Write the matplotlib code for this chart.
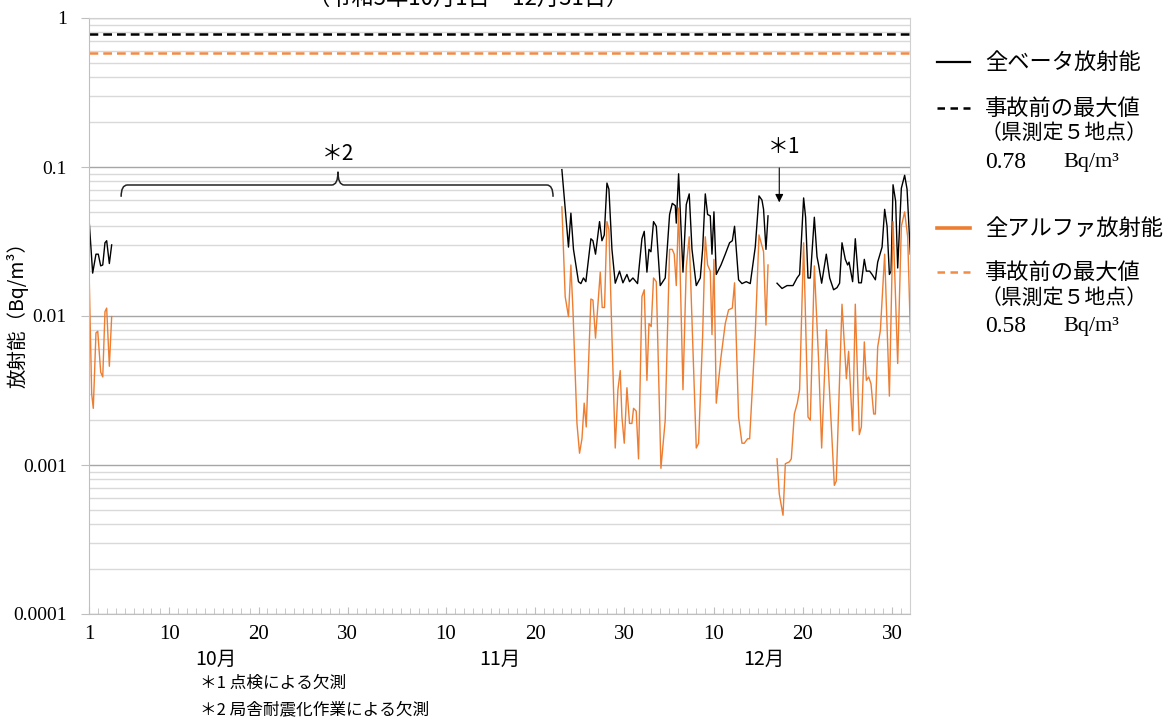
import numpy as np
import matplotlib
matplotlib.use("Agg")
import matplotlib.pyplot as plt
from matplotlib.lines import Line2D
from matplotlib.path import Path
from matplotlib.patches import PathPatch
from matplotlib.transforms import blended_transform_factory

# data: time = days since Oct 1 (0 = 10/1), values in Bq/m3, nan = missing
t_beta = [0.0, 0.41, 0.78, 1.04, 1.31, 1.54, 1.79, 1.98, 2.28, 2.54,
          27.0,
          52.99, 53.73, 54.0, 54.29, 54.85, 55.12, 55.41, 55.68, 56.24, 56.47,
          56.76, 57.21, 57.48, 57.74, 58.04, 58.26, 58.6, 58.97, 59.45, 59.83,
          60.28, 60.57, 60.95, 61.47, 61.96, 62.22, 62.52, 62.75, 62.97, 63.26,
          63.57, 64.01, 64.57, 65.06, 65.36, 65.7, 65.81, 66.07, 66.56, 66.93,
          67.26, 67.57, 68.05, 68.5, 68.76, 69.06, 69.32, 69.62, 69.81, 70.03,
          70.29, 70.82, 71.3, 71.78, 72.09, 72.34, 72.79, 73.17, 73.65, 74.1,
          74.66, 75.08, 75.41, 75.59, 75.86, 76.09,
          76.6,
          77.1, 77.66, 78.22, 78.89, 79.34, 79.63, 80.08, 80.3, 80.57, 80.83,
          81.28, 81.58, 81.76, 82.1, 82.62, 83.0, 83.44, 83.82, 84.11, 84.38,
          84.75, 85.01, 85.17, 85.57, 85.87, 86.25, 86.55, 86.88, 87.11, 87.48,
          87.75, 88.12, 88.38, 88.87, 89.16, 89.43, 89.69, 89.88, 90.1, 90.39,
          90.62, 91.03, 91.4, 91.67, 92.04]
beta = [0.045, 0.0194, 0.026, 0.026, 0.0217, 0.022, 0.031, 0.032, 0.0225, 0.030,
        np.nan,
        0.096, 0.029, 0.049, 0.028, 0.017, 0.0165, 0.018, 0.017, 0.033, 0.032,
        0.026, 0.043, 0.032, 0.035, 0.078, 0.071, 0.028, 0.0166, 0.020, 0.0167,
        0.019, 0.017, 0.018, 0.0165, 0.033, 0.037, 0.0197, 0.028, 0.027, 0.043,
        0.040, 0.016, 0.018, 0.048, 0.057, 0.055, 0.042, 0.090, 0.0197, 0.056,
        0.066, 0.028, 0.016, 0.018, 0.028, 0.066, 0.048, 0.047, 0.026, 0.050,
        0.019, 0.022, 0.026, 0.031, 0.032, 0.040, 0.0175, 0.0165, 0.017, 0.0165,
        0.029, 0.064, 0.060, 0.052, 0.028, 0.047,
        np.nan,
        0.0166, 0.0153, 0.016, 0.016, 0.018, 0.019, 0.062, 0.046, 0.018, 0.018,
        0.046, 0.025, 0.022, 0.0166, 0.026, 0.018, 0.015, 0.0155, 0.0166, 0.031,
        0.024, 0.022, 0.023, 0.017, 0.033, 0.0167, 0.0167, 0.024, 0.020, 0.020,
        0.019, 0.0175, 0.023, 0.029, 0.052, 0.040, 0.019, 0.020, 0.076, 0.059,
        0.021, 0.072, 0.088, 0.071, 0.026]

t_alpha = [0.0, 0.3, 0.48, 0.78, 0.98, 1.31, 1.54, 1.79, 1.98, 2.28, 2.54,
           27.0,
           52.99, 53.36, 53.73, 54.0, 54.23, 54.68, 54.97, 55.24, 55.49, 55.72,
           56.24, 56.47, 56.76, 57.29, 57.51, 57.77, 58.04, 58.26, 58.6, 58.97,
           59.27, 59.53, 59.72, 59.98, 60.28, 60.57, 60.84, 61.02, 61.32, 61.58,
           61.96, 62.22, 62.52, 62.75, 63.0, 63.26, 63.57, 64.09, 64.57, 65.06,
           65.36, 65.58, 65.81, 66.07, 66.56, 66.93, 67.26, 67.68, 68.05, 68.31,
           68.76, 69.06, 69.32, 69.62, 69.81, 70.03, 70.29, 70.82, 71.3, 71.67,
           72.09, 72.34, 72.79, 73.17, 73.43, 73.8, 74.03, 74.66, 75.08, 75.59,
           75.86, 76.09,
           76.6,
           77.1, 77.35, 77.77, 78.03, 78.48, 78.7, 79.04, 79.37, 79.63, 80.08,
           80.57, 80.83, 81.28, 81.76, 82.1, 82.62, 83.15, 83.52, 83.74, 84.38,
           84.87, 85.12, 85.57, 85.87, 86.32, 86.55, 86.88, 87.11, 87.37, 87.63,
           87.93, 88.12, 88.38, 88.68, 89.16, 89.69, 90.1, 90.62, 91.03, 91.4,
           91.74, 92.04]
alpha = [0.021, 0.003, 0.0024, 0.0077, 0.0079, 0.0042, 0.0039, 0.0107, 0.0113, 0.0046, 0.0099,
         np.nan,
         0.054, 0.0135, 0.0099, 0.022, 0.011, 0.0019, 0.0012, 0.0015, 0.0026, 0.0018,
         0.013, 0.0128, 0.0071, 0.0197, 0.0114, 0.0114, 0.043, 0.038, 0.0073, 0.0013,
         0.0032, 0.0043, 0.0021, 0.0014, 0.0033, 0.0019, 0.0019, 0.0024, 0.0023, 0.0011,
         0.0135, 0.015, 0.0037, 0.0089, 0.0085, 0.018, 0.017, 0.00095, 0.002, 0.028,
         0.028, 0.026, 0.016, 0.053, 0.0032, 0.0214, 0.034, 0.0059, 0.0013, 0.0014,
         0.0073, 0.034, 0.022, 0.020, 0.0075, 0.024, 0.0026, 0.0053, 0.0089, 0.011,
         0.0113, 0.0167, 0.0021, 0.0014, 0.0014, 0.0015, 0.0015, 0.0076, 0.035, 0.027,
         0.0087, 0.022,
         np.nan,
         0.0011, 0.00064, 0.00046, 0.00102, 0.00105, 0.0011, 0.0022, 0.0026, 0.0032, 0.031,
         0.0021, 0.002, 0.0217, 0.005, 0.0013, 0.0081, 0.002, 0.00073, 0.00078, 0.012,
         0.0038, 0.0058, 0.0017, 0.012, 0.0016, 0.0018, 0.0067, 0.0037, 0.0039, 0.0035,
         0.0022, 0.0022, 0.0062, 0.008, 0.026, 0.0029, 0.043, 0.0048, 0.040, 0.050,
         0.034, 0.0078]

beta_max = 0.78    # 事故前の最大値（全ベータ）
alpha_max = 0.58   # 事故前の最大値（全アルファ）

tick_pos = [0, 9, 19, 29, 40, 50, 60, 70, 80, 90]
tick_labels = ["1", "10", "20", "30", "10", "20", "30", "10", "20", "30"]
month_pos = [14.2, 46.0, 75.6]
month_labels = ["10月", "11月", "12月"]

jp = ["Noto Sans CJK JP", "DejaVu Sans"]
serif = ["Liberation Serif", "DejaVu Serif"]
black = "#000000"
orange = "#ED7D31"
orange_dash = "#F28C45"

fig = plt.figure(figsize=(11.75, 7.25), dpi=100)
ax = fig.add_axes([89 / 1175, 1 - 614 / 725, 821 / 1175, 596 / 725])

ax.set_yscale("log")
ax.set_ylim(0.0001, 1)
ax.set_xlim(0, 92)

# grid
ax.yaxis.set_major_locator(matplotlib.ticker.FixedLocator([0.0001, 0.001, 0.01, 0.1, 1]))
ax.yaxis.set_minor_locator(matplotlib.ticker.LogLocator(base=10, subs=np.arange(2, 10), numticks=20))
ax.yaxis.set_minor_formatter(matplotlib.ticker.NullFormatter())
ax.set_yticklabels(["0.0001", "0.001", "0.01", "0.1", "1"])
ax.grid(True, axis="y", which="major", color="#A6A6A6", lw=1)
ax.grid(True, axis="y", which="minor", color="#D9D9D9", lw=1)
ax.set_axisbelow(True)

ax.set_xticks(tick_pos)
ax.set_xticklabels(tick_labels)
ax.xaxis.set_minor_locator(matplotlib.ticker.MultipleLocator(1))

for s in ax.spines.values():
    s.set_color("#D0D0D0")
ax.spines["left"].set_color("#BFBFBF")
ax.spines["bottom"].set_color("#BFBFBF")

ax.tick_params(axis="y", which="major", direction="out", length=6, color="#BFBFBF", labelsize=14, pad=10)
ax.tick_params(axis="y", which="minor", length=0)
ax.tick_params(axis="x", which="major", direction="in", length=5, color="#BFBFBF", labelsize=15, pad=8)
ax.tick_params(axis="x", which="minor", direction="in", length=4, color="#BFBFBF")
for lab in ax.get_xticklabels() + ax.get_yticklabels():
    lab.set_family(serif)

# data lines
ax.plot(t_beta, beta, color=black, lw=1.0)
ax.plot(t_alpha, alpha, color=orange, lw=1.0)
ax.axhline(beta_max, color=black, lw=1.8, dashes=(3.5, 2))
ax.axhline(alpha_max, color=orange_dash, lw=1.8, dashes=(3.5, 2))

ax.set_ylabel("放射能（Bq/m³）", family=jp, fontsize=14)
ax.yaxis.set_label_coords(-0.074, 0.51)

bt = blended_transform_factory(ax.transData, ax.transAxes)
for p, m in zip(month_pos, month_labels):
    ax.text(p, -0.077, m, transform=bt, ha="center", va="center", family=jp, fontsize=14)

# brace for ＊2 (missing period)
verts = [(3.6, 0.700), (3.6, 0.7198), (4.3, 0.7198), (27.2, 0.7198),
         (27.9, 0.7198), (27.9, 0.742), (27.9, 0.7198), (28.6, 0.7198),
         (51.3, 0.7198), (52.0, 0.7198), (52.0, 0.700)]
codes = [Path.MOVETO, Path.CURVE3, Path.CURVE3, Path.LINETO,
         Path.CURVE3, Path.CURVE3, Path.CURVE3, Path.CURVE3,
         Path.LINETO, Path.CURVE3, Path.CURVE3]
ax.add_patch(PathPatch(Path(verts, codes), transform=bt, fill=False, ec="#222222", lw=1.1))
ax.text(27.9, 0.772, "＊2", transform=bt, ha="center", va="center", family=jp, fontsize=15)

# ＊1 arrow
ax.annotate("", xy=(77.35, 0.686), xytext=(77.35, 0.753), xycoords=bt, textcoords=bt,
            arrowprops=dict(arrowstyle="-|>", color="black", lw=0.8, mutation_scale=12))
ax.text(77.9, 0.784, "＊1", transform=bt, ha="center", va="center", family=jp, fontsize=15)

# title (cut off at top like the original)
fig.text(468 / 1175, 1 + 2 / 725, "（令和5年10月1日～12月31日）", ha="center", va="center",
         family=jp, fontsize=16)

# legend drawn by hand
def fy(y):
    return 1 - y / 725

def leg_line(y, color, lw, dashed):
    ln = Line2D([937 / 1175, 970 / 1175], [fy(y), fy(y)], color=color, lw=lw,
                transform=fig.transFigure)
    if dashed:
        ln.set_dashes((3, 2.2))
    fig.add_artist(ln)

leg_line(62, black, 1.6, False)
leg_line(108, black, 1.8, True)
leg_line(228, orange, 2.6, False)
leg_line(272, orange_dash, 1.8, True)

tx = 985 / 1175
fig.text(tx, fy(62), "全ベータ放射能", va="center", family=jp, fontsize=16)
fig.text(tx, fy(108), "事故前の最大値", va="center", family=jp, fontsize=16)
fig.text(tx - 0.004, fy(133), "（県測定５地点）", va="center", family=jp, fontsize=15)
fig.text(tx, fy(163), "0.78", va="center", family=serif, fontsize=17)
fig.text(1063 / 1175, fy(163), "Bq/m³", va="center", family=serif, fontsize=16)
fig.text(tx, fy(228), "全アルファ放射能", va="center", family=jp, fontsize=16)
fig.text(tx, fy(272), "事故前の最大値", va="center", family=jp, fontsize=16)
fig.text(tx - 0.004, fy(298), "（県測定５地点）", va="center", family=jp, fontsize=15)
fig.text(tx, fy(326), "0.58", va="center", family=serif, fontsize=17)
fig.text(1063 / 1175, fy(326), "Bq/m³", va="center", family=serif, fontsize=16)

# notes
fig.text(200 / 1175, fy(683), "＊1 点検による欠測", va="center", family=jp, fontsize=12)
fig.text(200 / 1175, fy(710), "＊2 局舎耐震化作業による欠測", va="center", family=jp, fontsize=12)

fig.savefig("out.png", dpi=100)
